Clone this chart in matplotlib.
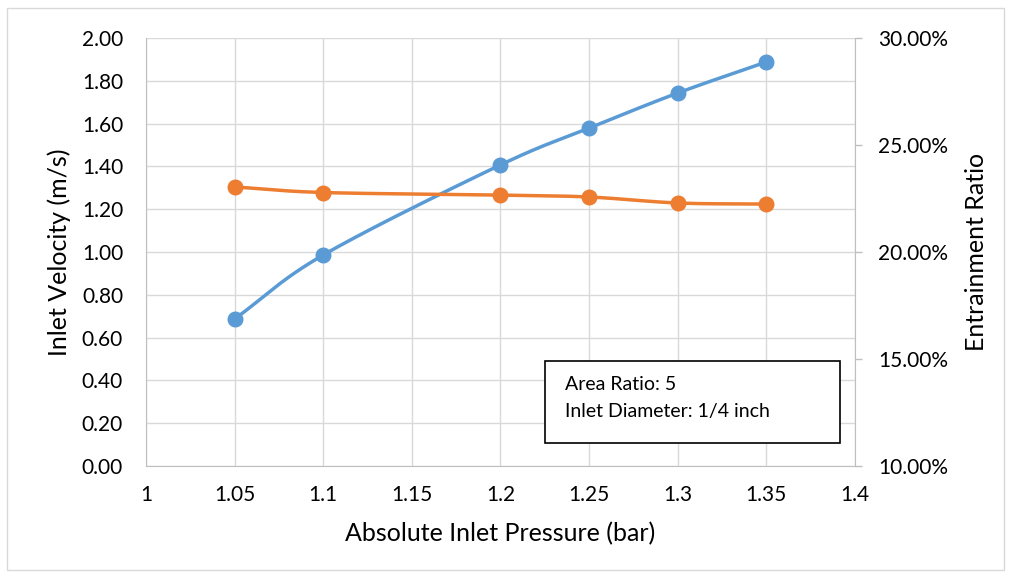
import numpy as np
import matplotlib
matplotlib.use("Agg")
import matplotlib.pyplot as plt
from matplotlib.patches import Rectangle

plt.rcParams['font.family'] = ['Lato', 'DejaVu Sans']

pressure = [1.05, 1.1, 1.2, 1.25, 1.3, 1.35]
velocity = [0.687, 0.986, 1.407, 1.579, 1.743, 1.888]
entrainment = [23.04, 22.78, 22.66, 22.57, 22.29, 22.24]

x_ticks = [1, 1.05, 1.1, 1.15, 1.2, 1.25, 1.3, 1.35, 1.4]
x_tick_labels = ["1", "1.05", "1.1", "1.15", "1.2", "1.25", "1.3", "1.35", "1.4"]
y_ticks = [0.0, 0.2, 0.4, 0.6, 0.8, 1.0, 1.2, 1.4, 1.6, 1.8, 2.0]
y2_ticks = [10, 15, 20, 25, 30]

BLUE = "#5B9BD5"
ORANGE = "#ED7D31"
GRID = "#D9D9D9"
TXT = "#000000"


def smooth(xs, ys, n=30):
    # Catmull-Rom style smoothing (as in spreadsheet "smoothed line")
    xs = np.asarray(xs, float); ys = np.asarray(ys, float)
    px = np.concatenate([[2 * xs[0] - xs[1]], xs, [2 * xs[-1] - xs[-2]]])
    py = np.concatenate([[2 * ys[0] - ys[1]], ys, [2 * ys[-1] - ys[-2]]])
    ox, oy = [], []
    for i in range(1, len(px) - 2):
        t = np.linspace(0, 1, n)
        p0x, p1x, p2x, p3x = px[i - 1:i + 3]
        p0y, p1y, p2y, p3y = py[i - 1:i + 3]
        c1x = p1x + (p2x - p0x) / 6; c1y = p1y + (p2y - p0y) / 6
        c2x = p2x - (p3x - p1x) / 6; c2y = p2y - (p3y - p1y) / 6
        bx = (1 - t) ** 3 * p1x + 3 * (1 - t) ** 2 * t * c1x + 3 * (1 - t) * t ** 2 * c2x + t ** 3 * p2x
        by = (1 - t) ** 3 * p1y + 3 * (1 - t) ** 2 * t * c1y + 3 * (1 - t) * t ** 2 * c2y + t ** 3 * p2y
        ox.extend(bx); oy.extend(by)
    return np.array(ox), np.array(oy)


fig = plt.figure(figsize=(10.11, 5.77), dpi=100)
W, H = 1011, 577
left, right, top, bottom = 146, 855, 38, 466
ax = fig.add_axes([left / W, 1 - bottom / H, (right - left) / W, (bottom - top) / H])
ax2 = ax.twinx()

# outer chart border
fig.patches.append(Rectangle((7 / W, 1 - 570 / H), (1004 - 7) / W, (570 - 8) / H,
                             transform=fig.transFigure, fill=False,
                             edgecolor="#D9D9D9", linewidth=1.0))

ax.set_xlim(1, 1.4)
ax.set_ylim(0, 2.0)
ax2.set_ylim(10, 30)

ax.set_xticks(x_ticks)
ax.set_xticklabels(x_tick_labels)
ax.set_yticks(y_ticks)
ax.set_yticklabels([f"{v:.2f}" for v in y_ticks])
ax2.set_yticks(y2_ticks)
ax2.set_yticklabels([f"{v:.2f}%" for v in y2_ticks])

ax.grid(True, color=GRID, linewidth=1.0)
ax.set_axisbelow(True)

for s in ["top", "right"]:
    ax.spines[s].set_visible(False)
ax.spines["left"].set_color("#BFBFBF")
ax.spines["bottom"].set_color("#BFBFBF")
for s in ["top", "left", "bottom"]:
    ax2.spines[s].set_visible(False)
ax2.spines["right"].set_color("#BFBFBF")

ax.tick_params(axis="x", length=0, pad=14, labelsize=15, colors=TXT)
ax.tick_params(axis="y", length=0, pad=16.5, labelsize=15, colors=TXT)
ax2.tick_params(axis="y", length=5, width=1, pad=11.5, labelsize=15,
                colors="#BFBFBF", labelcolor=TXT)

ax.set_xlabel("Absolute Inlet Pressure (bar)", fontsize=18, labelpad=12)
ax.set_ylabel("Inlet Velocity (m/s)", fontsize=18, labelpad=8)
ax2.set_ylabel("Entrainment Ratio", fontsize=18, labelpad=12)

sx, sy = smooth(pressure, velocity)
ax.plot(sx, sy, color=BLUE, linewidth=2.5, zorder=3, solid_capstyle="round")
ax.plot(pressure, velocity, "o", color=BLUE, markersize=10.5, zorder=4)

ex, ey = smooth(pressure, entrainment)
ax2.plot(ex, ey, color=ORANGE, linewidth=2.5, zorder=3, solid_capstyle="round")
ax2.plot(pressure, entrainment, "o", color=ORANGE, markersize=10.5, zorder=4)

# annotation box
bx0, by0, bx1, by1 = 545, 361, 840, 443
fig.patches.append(Rectangle((bx0 / W, 1 - by1 / H), (bx1 - bx0) / W, (by1 - by0) / H,
                             transform=fig.transFigure, facecolor="white",
                             edgecolor="black", linewidth=1.2, zorder=5))
fig.text(565 / W, 1 - 384 / H, "Area Ratio: 5", fontsize=14, va="center", ha="left", zorder=6)
fig.text(565 / W, 1 - 411 / H, "Inlet Diameter: 1/4 inch", fontsize=14, va="center", ha="left", zorder=6)

fig.savefig("out.png", dpi=100)
